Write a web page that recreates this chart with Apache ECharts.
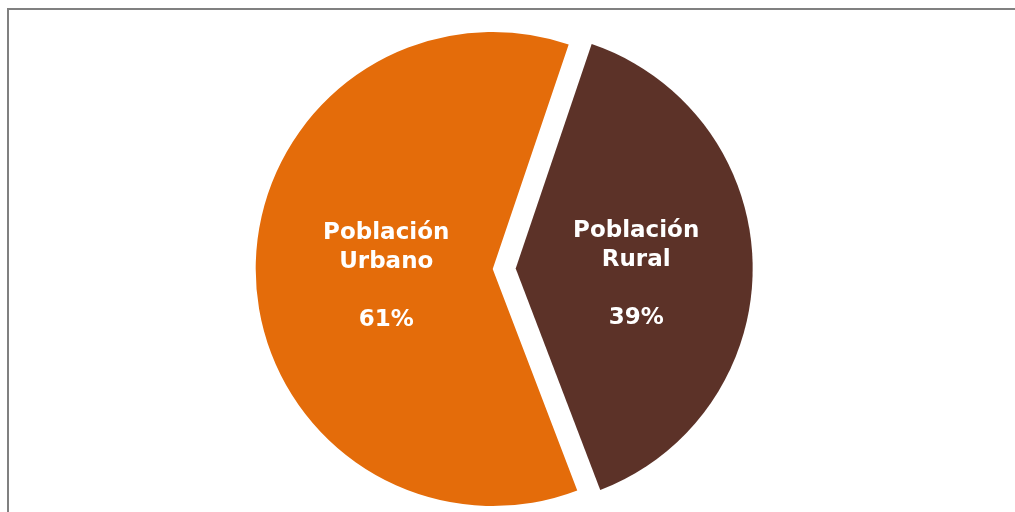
<!DOCTYPE html>
<html>
<head>
<meta charset="utf-8">
<script src="https://cdn.jsdelivr.net/npm/echarts@6/dist/echarts.min.js"></script>
<style>
  html, body { margin: 0; padding: 0; background: #fff; overflow: hidden; }
  #frame { position: absolute; left: 7px; top: 8px; width: 1100px; height: 600px; border: 2px solid #808080; box-sizing: border-box; }
  #chart { position: absolute; left: 0; top: 0; width: 1015px; height: 512px; }
</style>
</head>
<body>
<div id="frame"></div>
<div id="chart"></div>
<script>
const categories = ['Población Rural', 'Población Urbano'];
const values = [39, 61];
const colors = ['#5C3228', '#E46C0A'];

const chart = echarts.init(document.getElementById('chart'), null, { renderer: 'canvas' });
const data = categories.map((c, i) => ({
  name: c,
  value: values[i],
  selected: i === 0,
  itemStyle: { color: colors[i] },
  label: i === 1 ? { offset: [15, 5] } : { offset: [-1, 8] },
  select: i === 0 ? { label: { offset: [-1, 8] } } : undefined
}));
chart.setOption({
  animation: false,
  backgroundColor: 'transparent',
  series: [{
    type: 'pie',
    center: [492.7, 269],
    radius: 237,
    startAngle: 71.3,
    clockwise: true,
    selectedMode: 'single',
    selectedOffset: 23,
    emphasis: { disabled: true },
    itemStyle: { borderWidth: 0 },
    label: {
      show: true,
      position: 'inside',
      color: '#ffffff',
      fontFamily: 'DejaVu Sans',
      fontWeight: 'bold',
      fontSize: 23,
      lineHeight: 29,
      formatter: p => p.name.replace(' ', '\n') + '\n\n' + p.value + '%'
    },
    labelLine: { show: false },
    data: data
  }]
});
</script>
</body>
</html>
